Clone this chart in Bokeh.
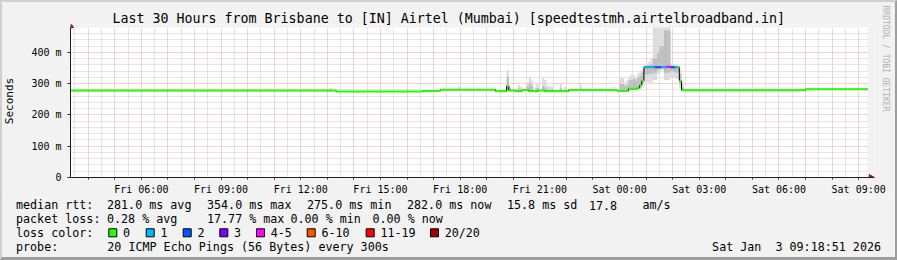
import math
import pandas as pd
from bokeh.plotting import figure
from bokeh.layouts import column
from bokeh.models import (FixedTicker, CustomJSTickFormatter, Title, Range1d, ColumnDataSource, Grid,
                          InlineStyleSheet)
from bokeh.core.properties import value
from bokeh.embed import file_html
from bokeh.resources import INLINE

FONT = "DejaVu Sans Mono"

# ---------------- data ----------------
TITLE = "Last 30 Hours from Brisbane to [IN] Airtel (Mumbai) [speedtestmh.airtelbroadband.in]"
WINDOW_START = "2026-01-02 03:20"
WINDOW_END = "2026-01-03 09:20"
STEP_MINUTES = 5

# median rtt (ms) as runs of constant value, with lost pings (out of 20)
RUN_START = ["2026-01-02 03:20", "2026-01-02 13:20", "2026-01-02 16:35", "2026-01-02 17:15",
             "2026-01-02 19:20", "2026-01-02 19:45", "2026-01-02 19:50", "2026-01-02 20:05",
             "2026-01-02 20:20", "2026-01-02 20:35", "2026-01-02 20:55", "2026-01-02 21:10",
             "2026-01-02 22:05", "2026-01-02 23:55", "2026-01-03 00:20", "2026-01-03 00:40",
             "2026-01-03 00:45", "2026-01-03 00:50", "2026-01-03 00:55", "2026-01-03 01:20",
             "2026-01-03 01:35", "2026-01-03 01:45", "2026-01-03 01:55", "2026-01-03 02:05",
             "2026-01-03 02:10", "2026-01-03 02:15", "2026-01-03 02:20", "2026-01-03 07:00"]
RUN_MS = [278, 275, 277, 281,
          276, 293, 278, 276,
          280, 276, 278, 276,
          280, 277, 284, 286,
          295, 309, 353, 353,
          353, 354, 353, 353,
          353, 309, 279, 282]
RUN_LOSS = [0, 0, 0, 0,
            0, 0, 0, 0,
            0, 0, 0, 0,
            0, 0, 0, 0,
            0, 0, 1, 2,
            1, 5, 2, 1,
            0, 0, 0, 0]

# smoke (spread of the 20 pings) per 5-minute step: outer range and inner range (ms)
SMOKE_TIME = ["2026-01-02 12:00", "2026-01-02 13:05", "2026-01-02 17:55", "2026-01-02 19:45",
              "2026-01-02 19:50", "2026-01-02 20:10", "2026-01-02 20:15", "2026-01-02 20:30",
              "2026-01-02 20:35", "2026-01-02 20:40", "2026-01-02 20:50", "2026-01-02 20:55",
              "2026-01-02 21:05", "2026-01-02 21:10", "2026-01-02 21:15", "2026-01-02 21:20",
              "2026-01-02 21:25", "2026-01-02 21:45", "2026-01-02 21:55", "2026-01-02 22:30",
              "2026-01-02 23:45", "2026-01-03 00:00", "2026-01-03 00:05", "2026-01-03 00:10",
              "2026-01-03 00:15", "2026-01-03 00:20", "2026-01-03 00:25", "2026-01-03 00:30",
              "2026-01-03 00:35", "2026-01-03 00:40", "2026-01-03 00:45", "2026-01-03 00:50",
              "2026-01-03 00:55", "2026-01-03 01:00", "2026-01-03 01:05", "2026-01-03 01:10",
              "2026-01-03 01:15", "2026-01-03 01:20", "2026-01-03 01:25", "2026-01-03 01:30",
              "2026-01-03 01:35", "2026-01-03 01:40", "2026-01-03 01:45", "2026-01-03 01:50",
              "2026-01-03 01:55", "2026-01-03 02:00", "2026-01-03 02:05", "2026-01-03 02:10",
              "2026-01-03 02:15", "2026-01-03 02:20"]
SMOKE_LO = [277, 276, 280, 274, 275, 275, 275, 275, 275, 275, 275, 275, 275, 275, 275, 275,
            275, 275, 275, 278, 278, 276, 276, 276, 276, 278, 278, 279, 279, 280, 282, 290,
            305, 305, 304, 304, 312, 312, 330, 340, 345, 312, 312, 312, 320, 318, 316, 314,
            285, 277]
SMOKE_HI = [284, 286, 291, 344, 290, 296, 290, 305, 319, 310, 300, 296, 319, 312, 295, 290,
            292, 300, 290, 297, 290, 320, 318, 303, 310, 325, 330, 328, 322, 335, 340, 345,
            360, 365, 370, 380, 480, 480, 480, 480, 480, 480, 480, 480, 365, 362, 360, 358,
            345, 300]
CORE_LO = [278, 277, 281, 280, 277, 276, 276, 277, 278, 277, 276, 276, 277, 277, 276, 276,
           276, 276, 276, 279, 279, 278, 278, 278, 278, 281, 281, 282, 282, 283, 286, 300,
           330, 330, 330, 332, 335, 335, 345, 348, 349, 335, 335, 335, 340, 338, 336, 335,
           295, 278]
CORE_HI = [280, 279, 284, 322, 284, 285, 282, 290, 302, 292, 286, 284, 292, 288, 283, 281,
           282, 285, 281, 285, 283, 300, 298, 292, 296, 310, 312, 315, 310, 320, 325, 335,
           356, 358, 360, 362, 380, 380, 400, 420, 420, 470, 470, 470, 358, 357, 356, 355,
           330, 288]

Y_MAJOR = [0, 100, 200, 300, 400]
Y_MINOR = [20, 40, 60, 80, 120, 140, 160, 180, 220, 240, 260, 280,
           320, 340, 360, 380, 420, 440, 460]
Y_TOP = 480

LOSS_LABELS = ["0", "1", "2", "3", "4-5", "6-10", "11-19", "20/20"]
LOSS_UPPER = [0, 1, 2, 3, 5, 10, 19, 20]
LOSS_COLORS = ["#26ff00", "#00b8ff", "#0059ff", "#7e00ff", "#ff00ff", "#ff5500", "#ff0000", "#a10000"]

RTT_STATS = ["281.0 ms avg", "354.0 ms max", "275.0 ms min", "282.0 ms now", "15.8 ms sd", "17.8", "am/s"]
LOSS_STATS = ["0.28 % avg", "17.77 % max", "0.00 % min", "0.00 % now"]
PROBE_TEXT = "20 ICMP Echo Pings (56 Bytes) every 300s"
STAMP_TEXT = "Sat Jan\u00a0 3 09:18:51 2026"
CREDIT = "RRDTOOL / TOBI OETIKER"

# ---------------- helpers ----------------
EPOCH = pd.Timestamp("1970-01-01")


def to_ms(s):
    return (pd.Timestamp(s) - EPOCH) / pd.Timedelta(milliseconds=1)


STEP_MS = STEP_MINUTES * 60 * 1000
ws, we = to_ms(WINDOW_START), to_ms(WINDOW_END)

# layout: frame x 67..874 px (data window 67..867), frame y 24..179 px (480 ms at 27 px)
W, H_TOP, H_BOT = 897, 197, 63
x_end = ws + (we - ws) * 807.0 / 800.0
y_end = Y_TOP * 155.0 / 152.0


def loss_color(n):
    for up, c in zip(LOSS_UPPER, LOSS_COLORS):
        if n <= up:
            return c
    return LOSS_COLORS[-1]


p = figure(width=W, height=H_TOP, output_backend="svg", toolbar_location=None,
           x_range=Range1d(ws, x_end), y_range=Range1d(0, y_end),
           x_axis_type="datetime",
           min_border_left=67, min_border_right=23, min_border_top=24, min_border_bottom=18)
p.background_fill_color = "#f2f2f2"
p.border_fill_color = "#f2f2f2"
p.outline_line_color = None

p.title.text = TITLE
p.title.align = "left"
p.title.offset = 42
p.title.standoff = -2
p.title.text_font = FONT
p.title.text_font_size = "13.3px"
p.title.text_font_style = "normal"
p.title.text_color = "black"

p.add_layout(Title(text=CREDIT, align="left", text_font=FONT, text_font_size="8px",
                   text_font_style="normal", text_color="#b0b0b0", standoff=12, offset=-19),
             "right")

# white canvas
p.quad(left=[ws], right=[we], bottom=[0], top=[Y_TOP], fill_color="white", line_color=None,
       level="image")

# ticks
x_major = [to_ms(t) for t in pd.date_range("2026-01-02 04:00", "2026-01-03 09:00", freq="1h")]
x_minor = [to_ms(t) for t in pd.date_range("2026-01-02 03:30", "2026-01-03 08:30", freq="1h")]
xt = FixedTicker(ticks=x_major, minor_ticks=x_minor)
yt = FixedTicker(ticks=Y_MAJOR, minor_ticks=Y_MINOR)
p.xaxis.ticker = xt
p.yaxis.ticker = yt
p.xgrid.ticker = xt
p.ygrid.ticker = yt

p.xaxis.formatter = CustomJSTickFormatter(code="""
const d = new Date(tick);
const h = d.getUTCHours();
if (h % 3 !== 0 || d.getUTCMinutes() !== 0) { return ""; }
const days = ["Sun","Mon","Tue","Wed","Thu","Fri","Sat"];
return days[d.getUTCDay()] + " " + String(h).padStart(2, "0") + ":00";
""")
p.yaxis.formatter = CustomJSTickFormatter(code="""
return tick === 0 ? "0" : (tick.toFixed(0) + " m");
""")

for ax in (p.xaxis, p.yaxis):
    ax.axis_line_color = "#1f1f1f"
    ax.major_tick_line_color = "#1f1f1f"
    ax.minor_tick_line_color = None
    ax.major_tick_in = 0
    ax.major_label_text_font = FONT
    ax.major_label_text_font_size = "10px"
    ax.major_label_text_color = "black"
p.xaxis.major_tick_out = 2
p.xaxis.major_label_standoff = 2
p.yaxis.major_tick_out = 3
p.yaxis.major_label_standoff = 5
p.yaxis.bounds = (0, Y_TOP)
p.yaxis.axis_label = "Seconds"
p.yaxis.axis_label_text_font = FONT
p.yaxis.axis_label_text_font_size = "11px"
p.yaxis.axis_label_text_font_style = "normal"
p.yaxis.axis_label_text_color = "black"
p.yaxis.axis_label_standoff = 12

for g in (p.xgrid, p.ygrid):
    g.grid_line_color = "#de5050"
    g.grid_line_alpha = 0.5
    g.grid_line_dash = "1 1"
    g.minor_grid_line_color = "#8f8f8f"
    g.minor_grid_line_alpha = 0.45
    g.minor_grid_line_dash = "1 1"
if "cross_bounds" in Grid.properties():
    p.xgrid.cross_bounds = (0, Y_TOP)
    p.ygrid.cross_bounds = (ws, we)

# smoke
st = [to_ms(t) for t in SMOKE_TIME]
p.quad(left=st, right=[t + STEP_MS for t in st], bottom=SMOKE_LO,
       top=[min(h, Y_TOP) for h in SMOKE_HI], fill_color="#dcdcdc", line_color=None)
p.quad(left=st, right=[t + STEP_MS for t in st], bottom=CORE_LO,
       top=[min(h, Y_TOP) for h in CORE_HI], fill_color="#bdbdbd", line_color=None)

# median line
rs = [to_ms(t) for t in RUN_START]
re_ = rs[1:] + [we]
p.step(x=rs + [we], y=RUN_MS + [RUN_MS[-1]], mode="after", line_color="black", line_width=1)
src = ColumnDataSource(dict(x0=rs, x1=re_, y=RUN_MS, c=[loss_color(n) for n in RUN_LOSS]))
p.segment(x0="x0", x1="x1", y0="y", y1="y", line_color="c", line_width=2, source=src)

# arrows
p.scatter(x=[ws], y=[Y_TOP + (y_end - Y_TOP) * 0.5], marker="triangle", size=6,
          fill_color="#801f1f", line_color="#801f1f")
p.scatter(x=[we + (x_end - we) * 0.5], y=[0], marker="triangle", size=6, angle=-math.pi / 2,
          fill_color="#801f1f", line_color="#801f1f")

# ---------------- legend strip (pixel coordinates, y downward) ----------------
q = figure(frame_width=W, frame_height=H_BOT, output_backend="svg", toolbar_location=None,
           x_range=Range1d(0, W), y_range=Range1d(H_TOP + H_BOT, H_TOP),
           x_axis_type=None, y_axis_type=None,
           min_border_left=0, min_border_right=0, min_border_top=0, min_border_bottom=0)
q.background_fill_color = "#f2f2f2"
q.border_fill_color = "#f2f2f2"
q.outline_line_color = None
q.grid.visible = False
for fig in (p, q):
    if "frame_align" in fig.properties():
        fig.frame_align = False

ROW_Y = [204.7, 218.3, 232.3, 246.0]
RTT_X = [106.5, 206.5, 306.5, 406.5, 506.5, 588.5, 642.0]
LOSS_X = [106.5, 206.5, 290.0, 372.0]
BOX_X = [108.3, 145.7, 182.7, 219.3, 256.0, 306.7, 365.7, 430.0]

txt_x = [15.5] + RTT_X + [15.5] + LOSS_X + [15.5] + [b + 14.2 for b in BOX_X] + [15.5, 106.8]
txt_y = ([ROW_Y[0]] * (1 + len(RTT_X)) + [ROW_Y[1]] * (1 + len(LOSS_X)) +
         [ROW_Y[2]] * (1 + len(BOX_X)) + [ROW_Y[3]] * 2)
txt = (["median rtt:"] + RTT_STATS + ["packet loss:"] + LOSS_STATS + ["loss color:"] +
       LOSS_LABELS + ["probe:", PROBE_TEXT])
q.text(x=txt_x, y=txt_y, text=txt, text_font=value(FONT), text_font_size=value("11.7px"),
       text_baseline="middle", text_align="left", text_color="black")
q.text(x=[880.5], y=[ROW_Y[3]], text=[STAMP_TEXT], text_font=value(FONT),
       text_font_size=value("11.7px"), text_baseline="middle", text_align="right",
       text_color="black")
q.quad(left=BOX_X, right=[b + 8 for b in BOX_X], top=[ROW_Y[2] - 4] * len(BOX_X),
       bottom=[ROW_Y[2] + 4] * len(BOX_X), fill_color=LOSS_COLORS, line_color="black",
       line_width=1)
# bottom shade of the image border
q.quad(left=[0], right=[W], top=[H_TOP + H_BOT - 3], bottom=[H_TOP + H_BOT],
       fill_color="#9e9e9e", line_color=None)

# 3D frame around the whole image (drawn over the content, no layout effect)
frame_css = InlineStyleSheet(css="""
:host { position: relative; }
:host::after {
  content: ""; position: absolute; left: 0; top: 0; right: 0; bottom: 0;
  box-sizing: border-box; pointer-events: none; z-index: 1000;
  border-style: solid; border-width: 2px 2px 3px 2px;
  border-color: #cfcfcf #9e9e9e #9e9e9e #cfcfcf;
}
""")
layout = column(p, q, spacing=0, stylesheets=[frame_css])
open("out.html", "w").write(file_html(layout, INLINE))
